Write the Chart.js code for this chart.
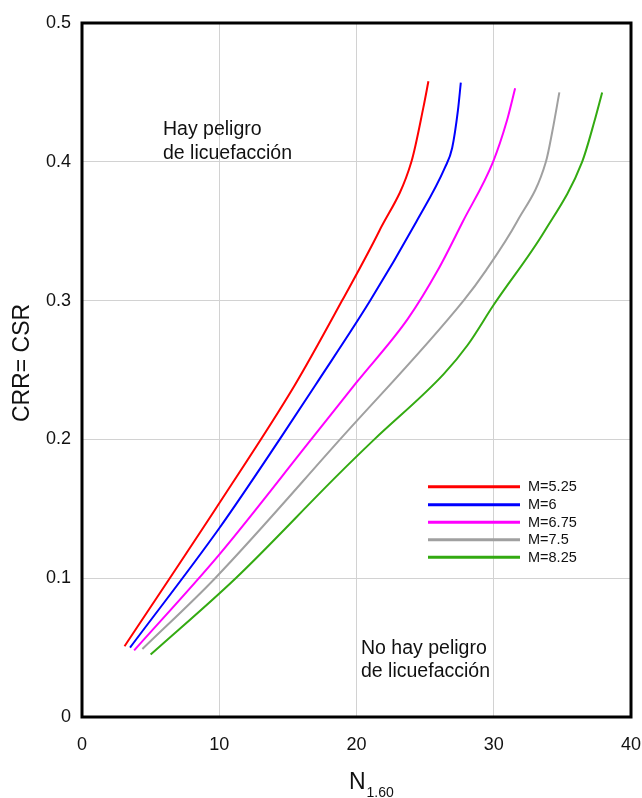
<!DOCTYPE html>
<html><head><meta charset="utf-8">
<script src="https://cdn.jsdelivr.net/npm/chart.js@4.4.1/dist/chart.umd.min.js"></script>
<style>html,body{margin:0;padding:0;background:#fff;} #wrap{width:642px;height:798px;}</style>
</head><body><div id="wrap"><canvas id="c" width="642" height="798"></canvas></div>
<script>
// ---- data ----
const seriesLabels = ['M=5.25', 'M=6', 'M=6.75', 'M=7.5', 'M=8.25'];

const n_525   = [3.1, 10, 15.5, 18.95, 21.65, 24.0, 24.87, 25.24];
const crr_525 = [0.051, 0.154, 0.239, 0.3, 0.35, 0.4, 0.439, 0.458];

const n_6     = [3.5, 10, 14.4, 17.0, 21.0, 24.37, 26.45, 26.97, 27.39, 27.6];
const crr_6   = [0.05, 0.136, 0.2, 0.239, 0.3, 0.357, 0.396, 0.41, 0.437, 0.457];

const n_675   = [3.8, 10, 16.7, 20, 23.75, 25.93, 27.75, 29.95, 30.94, 31.56];
const crr_675 = [0.048, 0.117, 0.2, 0.241, 0.287, 0.322, 0.357, 0.4, 0.429, 0.453];

const n_75    = [4.4, 9.7, 18.8, 27.8, 29.45, 31.7, 33.8, 34.27, 34.78];
const crr_75  = [0.049, 0.1, 0.2, 0.3, 0.322, 0.357, 0.4, 0.422, 0.45];

const n_825   = [5.0, 11.2, 18.7, 21.3, 26.35, 28.1, 30.0, 33.7, 36.44, 37.33, 37.9];
const crr_825 = [0.045, 0.1, 0.175, 0.2, 0.247, 0.268, 0.297, 0.35, 0.4, 0.429, 0.45];

const xTickValues = [0, 10, 20, 30, 40];
const yTickValues = [0, 0.1, 0.2, 0.3, 0.4, 0.5];

const yTitle = 'CRR= CSR';
const xTitleMain = 'N';
const xTitleSub = '1.60';
const zoneAbove = ['Hay peligro', 'de licuefacción'];
const zoneBelow = ['No hay peligro', 'de licuefacción'];

// ---- styles ----
const lineColors = ['#ff0000', '#0000ff', '#ff00ff', '#a0a0a0', '#33aa11'];
const FONT = '"Liberation Sans", Arial, sans-serif';

const xs = [n_525, n_6, n_675, n_75, n_825];
const ys = [crr_525, crr_6, crr_675, crr_75, crr_825];

const datasets = seriesLabels.map((lab, i) => ({
  label: lab,
  data: xs[i].map((x, j) => ({x: x, y: ys[i][j]})),
  borderColor: lineColors[i],
  backgroundColor: lineColors[i],
  borderWidth: 2,
  pointRadius: 0,
  fill: false,
  cubicInterpolationMode: 'monotone'
}));

const decor = {
  id: 'decor',
  afterDraw(chart) {
    const ctx = chart.ctx, a = chart.chartArea;
    ctx.save();
    ctx.strokeStyle = '#000';
    ctx.lineWidth = 3;
    ctx.strokeRect(a.left, a.top, a.right - a.left, a.bottom - a.top);

    ctx.fillStyle = '#111';
    ctx.textAlign = 'left';
    ctx.textBaseline = 'middle';
    ctx.font = '19.5px ' + FONT;
    ctx.fillText(zoneAbove[0], 163, 130);
    ctx.fillText(zoneAbove[1], 163, 154);
    ctx.fillText(zoneBelow[0], 361, 649);
    ctx.fillText(zoneBelow[1], 361, 672);

    ctx.font = '14.5px ' + FONT;
    const rows = [486.7, 504.7, 522.3, 539.7, 557.3];
    chart.data.datasets.forEach((ds, i) => {
      ctx.strokeStyle = ds.borderColor;
      ctx.lineWidth = 3;
      ctx.beginPath();
      ctx.moveTo(428, rows[i]);
      ctx.lineTo(520, rows[i]);
      ctx.stroke();
      ctx.fillStyle = '#111';
      ctx.fillText(ds.label, 528, rows[i] + 0.5);
    });

    ctx.save();
    ctx.translate(23, 363);
    ctx.rotate(-Math.PI / 2);
    ctx.textAlign = 'center';
    ctx.textBaseline = 'middle';
    ctx.font = '23px ' + FONT;
    ctx.fillStyle = '#111';
    ctx.fillText(yTitle, 0, 0);
    ctx.restore();

    ctx.textAlign = 'left';
    ctx.textBaseline = 'alphabetic';
    ctx.font = '23px ' + FONT;
    ctx.fillText(xTitleMain, 349, 789);
    ctx.font = '14px ' + FONT;
    ctx.fillText(xTitleSub, 366.5, 797);
    ctx.restore();
  }
};

new Chart(document.getElementById('c'), {
  type: 'line',
  data: { datasets: datasets },
  options: {
    responsive: false,
    animation: false,
    events: [],
    layout: { padding: { top: 23, right: 11, left: 0, bottom: 0 } },
    plugins: { legend: { display: false }, tooltip: { enabled: false } },
    scales: {
      x: {
        type: 'linear', min: 0, max: 40,
        afterBuildTicks: s => { s.ticks = xTickValues.map(v => ({value: v})); },
        afterFit: s => { s.height = 81; s.paddingLeft = 0; s.paddingRight = 0; },
        ticks: { color: '#111', font: { family: FONT, size: 18 }, padding: 17, maxRotation: 0, autoSkip: false, callback: v => String(v) },
        grid: { color: '#d2d2d2', lineWidth: 1, drawTicks: false },
        border: { display: false }
      },
      y: {
        type: 'linear', min: 0, max: 0.5,
        afterBuildTicks: s => { s.ticks = yTickValues.map(v => ({value: v})); },
        afterFit: s => { s.width = 82; s.paddingTop = 0; s.paddingBottom = 0; },
        ticks: { color: '#111', font: { family: FONT, size: 18 }, padding: 11, autoSkip: false, callback: v => String(v) },
        grid: { color: '#d2d2d2', lineWidth: 1, drawTicks: false },
        border: { display: false }
      }
    }
  },
  plugins: [decor]
});
</script>
</body></html>
